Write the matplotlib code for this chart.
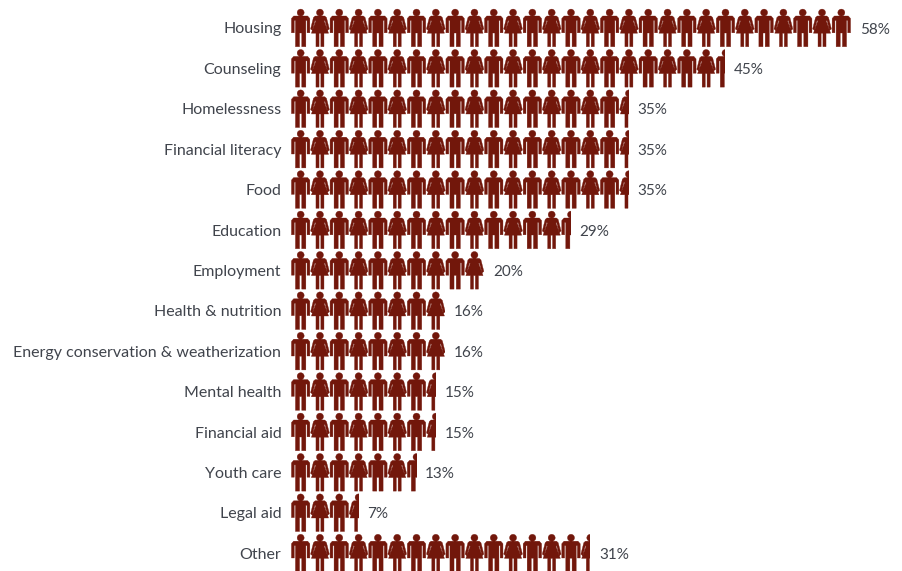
import numpy as np
import matplotlib
matplotlib.use("Agg")
import matplotlib.pyplot as plt
from matplotlib.path import Path
from matplotlib.patches import PathPatch, Rectangle

categories = ["Housing", "Counseling", "Homelessness", "Financial literacy", "Food",
              "Education", "Employment", "Health & nutrition",
              "Energy conservation & weatherization", "Mental health",
              "Financial aid", "Youth care", "Legal aid", "Other"]
values = [58, 45, 35, 35, 35, 29, 20, 16, 16, 15, 15, 13, 7, 31]

PER_ICON = 2            # one figure stands for two percent
ICON_COLOR = "#72170b"
TEXT_COLOR = "#40444c"
WIDTH, HEIGHT = 903, 571
LEFT = 291              # pixel position of the zero line
PX_PER_PCT = 9.655
ROW_PX = 40.4
FIRST_ROW_PX = 28

plt.rcParams["font.family"] = ["Lato", "DejaVu Sans"]


def poly(points):
    verts = list(points) + [points[0]]
    codes = [Path.MOVETO] + [Path.LINETO] * (len(points) - 1) + [Path.CLOSEPOLY]
    return Path(verts, codes)


def head():
    return Path.circle((0, -15.4), 3.5)


def man():
    return [head(),
            poly([(-7, -12), (7, -12), (9.2, -9.5), (9.2, 4.8), (6.4, 4.8), (6.4, -7.5),
                  (5.2, -7.5), (5.2, 18.7), (1.1, 18.7), (1.1, 5), (-1.1, 5), (-1.1, 18.7),
                  (-5.2, 18.7), (-5.2, -7.5), (-6.4, -7.5), (-6.4, 4.8), (-9.2, 4.8), (-9.2, -9.5)])]


def woman():
    return [head(),
            poly([(-4.8, -12), (4.8, -12), (6.5, -10.5), (9.4, 1), (7.6, 2.4), (5.0, -7.5),
                  (4.2, -7), (8.6, 5.2), (4.0, 5.2), (4.0, 18.7), (0.9, 18.7), (0.9, 5.2),
                  (-0.9, 5.2), (-0.9, 18.7), (-4.0, 18.7), (-4.0, 5.2), (-8.6, 5.2), (-4.2, -7),
                  (-5.0, -7.5), (-7.6, 2.4), (-9.4, 1), (-6.5, -10.5)])]


def icon_row(count, row):
    """Compound path of alternating figures in data coordinates."""
    parts = []
    for k in range(count):
        cx = PER_ICON * (k + 0.5)
        for piece in (man() if k % 2 == 0 else woman()):
            v = piece.vertices.copy()
            v[:, 0] = cx + v[:, 0] / PX_PER_PCT
            v[:, 1] = row + v[:, 1] / ROW_PX
            parts.append(Path(v, piece.codes))
    return Path.make_compound_path(*parts)


fig = plt.figure(figsize=(WIDTH / 100, HEIGHT / 100), dpi=100, facecolor="white")
ax = fig.add_axes([LEFT / WIDTH, 0, 1 - LEFT / WIDTH, 1])
ax.set_xlim(0, (WIDTH - LEFT) / PX_PER_PCT)
ax.set_ylim((HEIGHT - FIRST_ROW_PX) / ROW_PX, -FIRST_ROW_PX / ROW_PX)

for row, val in enumerate(values):
    patch = PathPatch(icon_row(int(np.ceil(val / PER_ICON)), row),
                      facecolor=ICON_COLOR, edgecolor=ICON_COLOR, lw=0.25)
    ax.add_patch(patch)
    # the last figure is cut off where the value ends
    patch.set_clip_path(Rectangle((0, row - 0.5), val, 1, transform=ax.transData))
    ax.annotate(f"{val}%", xy=(val, row), xytext=(6.3, -1.2), textcoords="offset points",
                va="center", ha="left", fontsize=11, color=TEXT_COLOR)

ax.set_yticks(range(len(categories)), categories)
ax.set_xticks([])
ax.tick_params(axis="y", length=0, pad=7, labelsize=11.5, labelcolor=TEXT_COLOR)
for spine in ax.spines.values():
    spine.set_visible(False)

fig.savefig("out.png", dpi=100)
